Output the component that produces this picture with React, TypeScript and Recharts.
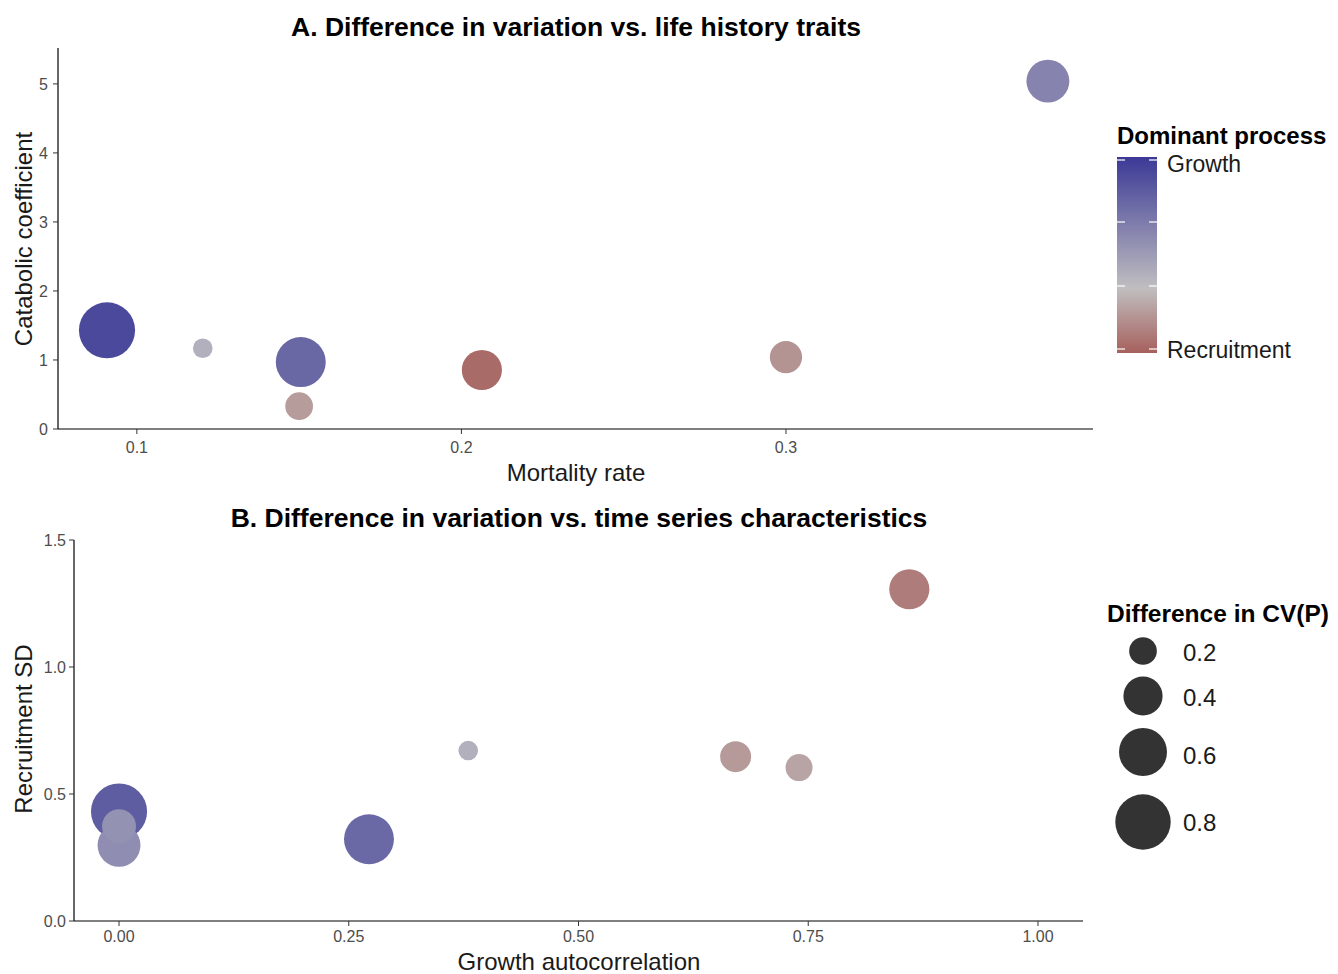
import { Cell, Scatter, ScatterChart, XAxis, YAxis, ZAxis } from 'recharts';

// Panel A: life history traits
const mortalityRate = [0.0908, 0.1203, 0.1505, 0.15, 0.2063, 0.3, 0.3807];
const catabolicCoef = [1.43, 1.17, 0.97, 0.33, 0.855, 1.04, 5.04];
const cvDiffA = [0.82, 0.1, 0.65, 0.2, 0.42, 0.27, 0.48];
const processA = [0.92, 0.4, 0.77, 0.21, 0.04, 0.18, 0.62];

// Panel B: time series characteristics
const growthAutocorr = [0, 0, 0, 0.272, 0.38, 0.671, 0.74, 0.86];
const recruitmentSD = [0.431, 0.298, 0.373, 0.322, 0.671, 0.647, 0.604, 1.306];
const cvDiffB = [0.82, 0.48, 0.3, 0.65, 0.1, 0.25, 0.19, 0.42];
const processB = [0.82, 0.575, 0.55, 0.76, 0.4, 0.2, 0.24, 0.1];

const ticksA_x = [0.1, 0.2, 0.3];
const ticksA_y = [0, 1, 2, 3, 4, 5];
const ticksB_x = [0, 0.25, 0.5, 0.75, 1];
const ticksB_y = [0, 0.5, 1, 1.5];
const sizeBreaks = [0.2, 0.4, 0.6, 0.8];

// process score: 1 = growth dominated, 0 = recruitment dominated
const STOPS: [number, number[]][] = [
  [0, [166, 96, 92]],
  [0.33, [192, 190, 192]],
  [1, [59, 57, 150]],
];

function processColor(v: number): string {
  for (let i = 1; i < STOPS.length; i++) {
    const [v0, c0] = STOPS[i - 1];
    const [v1, c1] = STOPS[i];
    if (v <= v1) {
      const t = (v - v0) / (v1 - v0);
      const c = c0.map((a, k) => Math.round(a + (c1[k] - a) * t));
      return `rgb(${c.join(',')})`;
    }
  }
  return `rgb(${STOPS[STOPS.length - 1][1].join(',')})`;
}

// area ~ value, same as the ZAxis range below
const AREA_PER_UNIT = 960;
const radiusFor = (v: number) => Math.sqrt(AREA_PER_UNIT * v);

const dataA = mortalityRate.map((x, i) => ({ x, y: catabolicCoef[i], z: cvDiffA[i], p: processA[i] }));
const dataB = growthAutocorr.map((x, i) => ({ x, y: recruitmentSD[i], z: cvDiffB[i], p: processB[i] }));

const FONT = '"Liberation Sans", Arial, sans-serif';
const tickStyle = { fontSize: 16, fill: '#4d4d4d', fontFamily: FONT };

const abs = (extra: React.CSSProperties): React.CSSProperties => ({
  position: 'absolute',
  fontFamily: FONT,
  whiteSpace: 'nowrap',
  color: '#000',
  lineHeight: 1,
  ...extra,
});

function Panel({
  data,
  xDomain,
  yDomain,
  xTicks,
  yTicks,
  xFmt,
  yFmt,
  yWidth,
  right,
  top,
  bottom,
  height,
  xMargin,
  yMargin,
}: {
  data: { x: number; y: number; z: number; p: number }[];
  xDomain: [number, number];
  yDomain: [number, number];
  xTicks: number[];
  yTicks: number[];
  xFmt: (v: number) => string;
  yFmt: (v: number) => string;
  yWidth: number;
  right: number;
  top: number;
  bottom: number;
  height: number;
  xMargin: number;
  yMargin: number;
}) {
  return (
    <ScatterChart width={1100} height={height} margin={{ top, right, bottom, left: 0 }}>
      <XAxis
        type="number"
        dataKey="x"
        domain={xDomain}
        ticks={xTicks}
        tickFormatter={xFmt}
        allowDataOverflow
        tick={tickStyle}
        tickSize={5}
        tickMargin={xMargin}
        axisLine={{ stroke: '#000', strokeWidth: 1.2 }}
        tickLine={{ stroke: '#333' }}
        height={30}
      />
      <YAxis
        type="number"
        dataKey="y"
        domain={yDomain}
        ticks={yTicks}
        tickFormatter={yFmt}
        allowDataOverflow
        width={yWidth}
        tick={tickStyle}
        tickSize={5}
        tickMargin={yMargin}
        axisLine={{ stroke: '#000', strokeWidth: 1.2 }}
        tickLine={{ stroke: '#333' }}
      />
      <ZAxis type="number" dataKey="z" domain={[0, 1]} range={[0, AREA_PER_UNIT * Math.PI]} />
      <Scatter data={data} isAnimationActive={false} shape="circle">
        {data.map((d, i) => (
          <Cell key={i} fill={processColor(d.p)} />
        ))}
      </Scatter>
    </ScatterChart>
  );
}

export default function App() {
  return (
    <div style={{ position: 'relative', width: 1338, height: 974, background: '#fff', overflow: 'hidden' }}>
      <style>{'body{margin:0}'}</style>

      {/* Panel A */}
      <div style={abs({ left: 0, top: 0 })}>
        <Panel
          data={dataA}
          xDomain={[0.0757, 0.3946]}
          yDomain={[0, 5.52]}
          xTicks={ticksA_x}
          yTicks={ticksA_y}
          xFmt={(v) => String(v)}
          yFmt={(v) => String(v)}
          yWidth={58}
          right={7}
          top={48}
          bottom={31}
          height={490}
          xMargin={8}
          yMargin={5}
        />
      </div>
      <div style={abs({ left: 576, top: 27, transform: 'translate(-50%,-50%)', fontSize: 26.5, fontWeight: 'bold' })}>
        A. Difference in variation vs. life history traits
      </div>
      <div style={abs({ left: 576, top: 473, transform: 'translate(-50%,-50%)', fontSize: 24, color: '#1a1a1a' })}>
        Mortality rate
      </div>
      <div
        style={abs({
          left: 24,
          top: 239,
          transform: 'translate(-50%,-50%) rotate(-90deg)',
          fontSize: 24,
          color: '#1a1a1a',
        })}
      >
        Catabolic coefficient
      </div>

      {/* Panel B */}
      <div style={abs({ left: 0, top: 490 })}>
        <Panel
          data={dataB}
          xDomain={[-0.049, 1.049]}
          yDomain={[0, 1.5]}
          xTicks={ticksB_x}
          yTicks={ticksB_y}
          xFmt={(v) => v.toFixed(2)}
          yFmt={(v) => v.toFixed(1)}
          yWidth={74}
          right={17}
          top={50}
          bottom={23}
          height={484}
          xMargin={5}
          yMargin={3}
        />
      </div>
      <div style={abs({ left: 579, top: 518, transform: 'translate(-50%,-50%)', fontSize: 26.5, fontWeight: 'bold' })}>
        B. Difference in variation vs. time series characteristics
      </div>
      <div style={abs({ left: 579, top: 962, transform: 'translate(-50%,-50%)', fontSize: 24, color: '#1a1a1a' })}>
        Growth autocorrelation
      </div>
      <div
        style={abs({
          left: 24,
          top: 729,
          transform: 'translate(-50%,-50%) rotate(-90deg)',
          fontSize: 24,
          color: '#1a1a1a',
        })}
      >
        Recruitment SD
      </div>

      {/* Colour legend */}
      <div style={abs({ left: 1117, top: 136, transform: 'translateY(-50%)', fontSize: 24, fontWeight: 'bold' })}>
        Dominant process
      </div>
      <svg style={{ position: 'absolute', left: 1110, top: 150 }} width={60} height={210}>
        <defs>
          <linearGradient id="proc" x1="0" y1="0" x2="0" y2="1">
            <stop offset="0" stopColor={processColor(1)} />
            <stop offset="0.67" stopColor={processColor(0.33)} />
            <stop offset="1" stopColor={processColor(0)} />
          </linearGradient>
        </defs>
        <rect x={7} y={7} width={40} height={196} fill="url(#proc)" />
        {[10, 72, 136, 199].map((y) => (
          <g key={y} stroke="#fff" strokeWidth={1.2}>
            <line x1={7} x2={15} y1={y} y2={y} />
            <line x1={39} x2={47} y1={y} y2={y} />
          </g>
        ))}
      </svg>
      <div style={abs({ left: 1167, top: 164, transform: 'translateY(-50%)', fontSize: 23, color: '#1a1a1a' })}>
        Growth
      </div>
      <div style={abs({ left: 1167, top: 350, transform: 'translateY(-50%)', fontSize: 23, color: '#1a1a1a' })}>
        Recruitment
      </div>

      {/* Size legend */}
      <div style={abs({ left: 1107, top: 614, transform: 'translateY(-50%)', fontSize: 24.5, fontWeight: 'bold' })}>
        Difference in CV(P)
      </div>
      <svg style={{ position: 'absolute', left: 1110, top: 630 }} width={70} height={230}>
        {sizeBreaks.map((v, i) => (
          <circle key={v} cx={33} cy={[21, 66, 122, 192][i]} r={radiusFor(v)} fill="#333" />
        ))}
      </svg>
      {sizeBreaks.map((v, i) => (
        <div
          key={v}
          style={abs({ left: 1183, top: [653, 698, 756, 823][i], transform: 'translateY(-50%)', fontSize: 24, color: '#1a1a1a' })}
        >
          {v.toFixed(1)}
        </div>
      ))}
    </div>
  );
}
